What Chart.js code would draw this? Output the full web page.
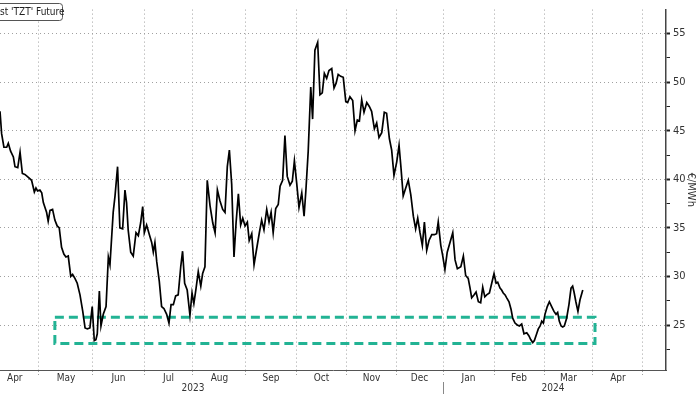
<!DOCTYPE html>
<html lang="en">
<head>
<meta charset="UTF-8">
<title>'TZT' Future</title>
<script src="https://cdn.jsdelivr.net/npm/chart.js@4"></script>
<style>
  html, body { margin: 0; padding: 0; background: #fff; }
  #wrap { width: 700px; height: 394px; }
</style>
</head>
<body>
<div id="wrap"><canvas id="chart" width="700" height="394"></canvas></div>
<script>
// x = weekday offset from 1 May 2023, y = price in EUR/MWh
const t = [
  -16.9,-16.2,-15.2,-14.0,-13.3,-12.3,-11.1,-10.4,-9.2,-8.2,
  -7.2,-6.1,-4.6,-3.2,-2.0,-1.3,-0.6,0.4,1.2,1.9,
  3.3,4.0,4.8,5.9,6.9,7.9,8.8,9.8,10.8,11.7,
  12.7,13.8,14.6,15.6,16.6,17.8,19.0,20.0,21.0,22.1,
  23.1,24.0,24.7,25.3,26.2,26.9,27.9,29.1,30.1,
  30.8,32.2,33.0,34.1,35.1,36.3,37.3,38.0,38.7,39.8,
  40.9,42.1,43.1,44.1,45.0,45.7,46.7,47.9,48.9,49.6,
  50.3,51.1,52.2,53.2,54.2,55.4,56.4,57.3,58.3,59.3,
  60.4,61.5,62.3,63.2,64.3,65.5,66.4,67.2,68.1,69.1,
  70.2,71.0,72.0,73.0,74.2,75.4,76.4,77.4,78.5,79.7,
  80.7,81.7,82.6,83.6,84.6,85.5,86.5,87.5,88.4,89.4,
  90.4,91.2,92.3,93.3,94.4,95.6,96.6,97.6,98.8,99.8,
  100.7,101.6,102.7,103.8,104.6,105.7,106.7,107.7,108.9,109.9,
  110.8,111.8,112.8,114.0,115.0,115.8,116.8,117.9,118.7,119.7,
  120.9,121.9,122.9,123.8,124.8,125.8,127.0,128.0,128.9,129.8,
  130.9,132.0,133.1,133.9,134.9,136.1,137.1,138.1,139.0,140.0,
  141.0,142.2,143.3,144.3,145.5,146.5,147.5,148.7,149.8,150.8,
  152.0,153.0,154.0,155.2,156.2,157.0,158.0,159.1,160.2,161.3,
  162.4,163.4,164.3,165.3,166.3,167.2,168.2,169.2,170.4,171.5,
  172.5,173.2,174.3,175.1,176.1,177.1,178.3,179.5,180.5,181.5,
  183.0,184.1,185.1,186.2,187.0,187.7,188.7,189.6,190.6,191.6,
  192.5,193.4,194.2,195.4,196.4,197.4,198.3,199.0,200.0,200.7,
  201.4,202.2,202.9,203.9,204.8,205.5,206.5,207.5,208.4,209.4,
  210.4,211.6,212.5,213.3,214.2,214.9,215.9,216.6,217.4,218.1,
  218.8,219.5,220.5,221.4,222.4,223.4,224.3,225.0,225.7,226.5,
  227.2,227.9,228.9,229.9,230.8,231.5,232.1,232.9,233.8,234.7,235.9
];
const price = [
  47.0,44.7,43.3,43.3,43.7,42.9,42.3,41.3,41.2,42.8,
  40.6,40.5,40.2,39.9,38.7,39.1,38.8,38.9,38.6,37.6,
  36.6,35.7,36.8,36.9,35.8,35.2,35.0,33.0,32.3,32.0,
  32.1,30.0,30.2,29.8,29.3,28.1,26.4,24.7,24.6,24.7,
  26.9,23.4,23.5,24.1,28.5,24.9,26.1,26.9,32.0,
  31.2,36.6,38.3,41.3,35.0,34.9,38.9,37.6,34.8,32.5,
  32.1,34.5,34.2,35.5,37.2,34.5,35.3,34.3,33.5,32.5,
  33.5,31.5,29.5,26.9,26.7,26.1,25.2,27.1,27.1,28.0,
  28.1,31.0,32.6,29.3,28.6,26.0,28.3,27.2,28.7,30.5,
  29.0,30.3,31.0,39.9,37.3,35.5,34.5,38.9,37.8,36.9,
  36.6,41.3,43.0,39.5,32.0,35.5,38.5,35.3,36.0,35.2,
  35.6,33.7,34.4,31.2,32.8,34.5,35.8,34.8,36.9,35.6,
  36.6,34.5,37.0,37.4,39.3,39.9,44.5,40.3,39.4,39.8,
  41.9,39.6,37.1,38.6,36.2,38.9,42.9,49.5,46.2,53.3,
  54.1,48.7,48.9,50.9,50.4,51.2,51.4,49.4,49.9,50.8,
  50.6,50.5,48.0,47.9,48.5,48.1,45.0,46.1,46.0,48.2,
  46.9,47.9,47.5,47.0,45.2,45.8,44.3,44.8,46.9,46.8,
  44.2,43.0,40.4,41.8,43.5,41.3,38.3,39.1,39.9,38.4,
  36.2,34.9,36.0,34.5,33.2,35.6,32.7,33.7,34.3,34.3,
  34.4,35.6,33.2,32.2,30.7,32.5,33.5,34.5,31.7,30.8,
  31.0,32.1,30.1,29.8,28.8,27.8,28.1,28.4,27.4,27.3,
  28.9,27.9,28.1,28.3,29.3,30.3,29.3,29.4,28.8,28.6,
  28.3,28.1,27.8,27.4,26.6,25.7,25.2,25.0,24.9,25.1,
  24.1,24.2,23.9,23.5,23.2,23.4,24.1,24.6,24.9,25.4,
  25.2,26.1,26.9,27.4,26.9,26.4,26.1,26.3,25.4,24.9,
  24.8,24.9,25.7,27.1,28.8,29.0,28.4,27.4,26.4,27.6,28.6
];

// month boundaries (weekday offset) and their labels
const monthStart = [-21, 0, 23.4, 45.6, 66.8, 89.8, 111.5, 133.6, 154.9, 175.3, 197.4, 219.1, 240.3, 262.0];
const monthNames = ['Apr', 'May', 'Jun', 'Jul', 'Aug', 'Sep', 'Oct', 'Nov', 'Dec', 'Jan', 'Feb', 'Mar', 'Apr'];
const years = ['2023', '2024'];
const yearLabelAt = [66.8, 223];
const yearBreak = 175.3;
const yTicks = [22.5, 25, 27.5, 30, 32.5, 35, 37.5, 40, 42.5, 45, 47.5, 50, 52.5, 55];

// highlighted support zone
const zoneFrom = 6.9, zoneTo = 241.2, zoneLow = 23.1, zoneHigh = 25.8;

const FONT = "'Liberation Sans Narrow', 'DejaVu Sans Condensed', 'Liberation Sans', sans-serif";
const GRID = '#a0a0a0';

const zonePlugin = {
  id: 'zone',
  beforeDatasetsDraw(chart) {
    const { ctx, scales: { x, y } } = chart;
    const x0 = x.getPixelForValue(zoneFrom), x1 = x.getPixelForValue(zoneTo);
    const y0 = y.getPixelForValue(zoneHigh), y1 = y.getPixelForValue(zoneLow);
    ctx.save();
    ctx.strokeStyle = '#22b394';
    ctx.lineWidth = 3;
    ctx.setLineDash([9, 5]);
    ctx.strokeRect(x0, y0, x1 - x0, y1 - y0);
    ctx.restore();
  }
};

const labelsPlugin = {
  id: 'labels',
  afterDraw(chart) {
    const { ctx, chartArea, scales: { x } } = chart;
    ctx.save();
    ctx.fillStyle = '#333';
    ctx.font = '10px ' + FONT;
    ctx.textAlign = 'center';
    ctx.textBaseline = 'middle';
    for (let i = 0; i < monthNames.length; i++) {
      const mid = (monthStart[i] + monthStart[i + 1]) / 2;
      ctx.fillText(monthNames[i], x.getPixelForValue(mid), chartArea.bottom + 8);
    }
    years.forEach((yr, i) => {
      ctx.fillText(yr, x.getPixelForValue(yearLabelAt[i]), chartArea.bottom + 18);
    });
    const xb = Math.round(x.getPixelForValue(yearBreak)) + 0.5;
    ctx.strokeStyle = '#888';
    ctx.lineWidth = 1;
    ctx.beginPath();
    ctx.moveTo(xb, chartArea.bottom + 12);
    ctx.lineTo(xb, chart.height);
    ctx.stroke();

    // legend box (cut by the left edge)
    ctx.fillStyle = '#fff';
    ctx.strokeStyle = '#555';
    ctx.beginPath();
    ctx.roundRect(-5.5, 3.5, 68, 17, 3);
    ctx.fill();
    ctx.stroke();
    ctx.fillStyle = '#222';
    ctx.textAlign = 'left';
    ctx.fillText("st 'TZT' Future", 0, 12.5);
    ctx.restore();
  }
};

new Chart(document.getElementById('chart'), {
  type: 'line',
  data: {
    datasets: [{
      data: t.map((v, i) => ({ x: v, y: price[i] })),
      borderColor: '#000',
      borderWidth: 1.7,
      pointRadius: 0,
      tension: 0
    }]
  },
  options: {
    responsive: false,
    animation: false,
    devicePixelRatio: 1,
    layout: { padding: { top: 2, left: 0, right: 0, bottom: 0 } },
    plugins: { legend: { display: false }, tooltip: { enabled: false } },
    scales: {
      x: {
        type: 'linear',
        min: -16.9,
        max: 272,
        afterBuildTicks(scale) {
          scale.ticks = monthStart.filter(v => v >= scale.min && v <= scale.max).map(v => ({ value: v }));
        },
        afterFit(scale) { scale.height = 24; },
        ticks: { display: false },
        grid: { color: GRID, lineWidth: 1, tickLength: 6, tickColor: GRID, tickBorderDash: [1, 2] },
        border: { color: '#555', width: 1, dash: [1, 3] }
      },
      y: {
        type: 'linear',
        position: 'right',
        min: 20.37,
        max: 57.47,
        afterBuildTicks(scale) {
          scale.ticks = yTicks.map(v => ({ value: v }));
        },
        afterFit(scale) { scale.width = 34; },
        ticks: {
          color: '#333',
          padding: 3,
          font: { family: FONT, size: 11 },
          callback: v => (v % 5 === 0 ? v : '')
        },
        grid: {
          color: c => (c.tick && c.tick.value % 5 === 0 ? GRID : 'rgba(0,0,0,0)'),
          tickColor: '#222',
          tickLength: 4,
          tickWidth: c => (c.tick && c.tick.value % 5 === 0 ? 2 : 1)
        },
        border: { color: '#444', width: 1.5, dash: [1, 3] },
        title: {
          display: true,
          text: '€/MWh',
          color: '#333',
          font: { family: FONT, size: 11 },
          padding: { top: 3, bottom: 0 }
        }
      }
    }
  },
  plugins: [zonePlugin, labelsPlugin]
});
</script>
</body>
</html>
